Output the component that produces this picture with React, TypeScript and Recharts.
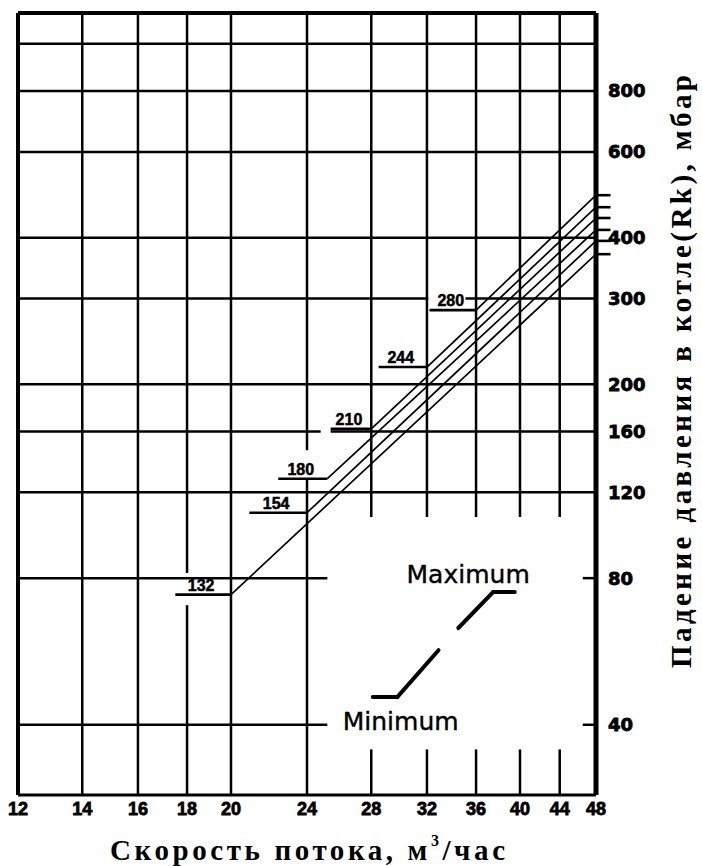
import React from 'react';
import { ComposedChart, Line, XAxis, YAxis, ReferenceLine } from 'recharts';

// Axes
const xTicks = [12, 14, 16, 18, 20, 24, 28, 32, 36, 40, 44, 48];
const yTicks = [40, 80, 120, 160, 200, 300, 400, 600, 800];
const xDomain = [12, 48];
const yDomain = [28.7, 1157];

// Boiler models: pressure drop line from min flow to max flow
const models = ['132', '154', '180', '210', '244', '280'];
const minFlow = [20, 24, 25.2, 28, 32, 36];
const minDrop = [74, 109, 128, 162, 217, 284];
const maxFlow = [48, 48, 48, 48, 48, 48];
const maxDrop = [370, 394, 415, 439, 462, 489];
const labelStart = [17.5, 20.9, 22.4, 25.4, 28.5, 32.2];
const maxTickEnd = 49.7;

// Grid segments (broken grid as drawn in the original)
const vGridX = [14, 16, 18, 18, 20, 24, 24, 28, 28, 32, 32, 36, 36, 40, 40, 44, 44];
const vGridFrom = [28.7, 28.7, 82, 28.7, 28.7, 146.5, 28.7, 106.8, 28.7, 106.8, 28.7, 106.8, 28.7, 106.8, 28.7, 106.8, 28.7];
const vGridTo = [1157, 1157, 1157, 70.4, 1157, 1157, 128, 1157, 35.6, 1157, 35.6, 1157, 35.6, 1157, 35.6, 1157, 35.6];

const hGridY = [1000, 800, 600, 400, 300, 300, 200, 160, 160, 120, 80, 80, 40, 40];
const hGridFrom = [12, 12, 12, 12, 12, 35.1, 12, 12, 25.4, 12, 12, 46.5, 12, 46.5];
const hGridTo = [48, 48, 48, 48, 32.1, 48, 48, 24.8, 48, 48, 25.2, 48, 25.2, 48];

// Legend (Minimum -> Maximum)
const legendMinX = [28.1, 29.8, 32.9];
const legendMinY = [45.6, 45.6, 56.9];
const legendMaxX = [34.5, 37.5, 39.5];
const legendMaxY = [63.2, 74.9, 74.9];

const sans = '"Liberation Sans", Arial, Helvetica, sans-serif';
const serif = '"Liberation Serif", "Times New Roman", serif';

const modelLines = models.map((m, i) => [
  { x: minFlow[i], y: minDrop[i] },
  { x: maxFlow[i], y: maxDrop[i] },
]);

const getVB = (props: any) => props.viewBox || props;

const modelLabel = (text: string) => (props: any) => {
  const vb = getVB(props);
  return (
    <text x={vb.x + (vb.width || 0) / 2 - 2} y={vb.y - 4} textAnchor="middle" fontFamily={sans} fontWeight="bold" fontSize={16} fill="#000" stroke="#000" strokeWidth={0.5}>
      {text}
    </text>
  );
};

const maxLabel = (props: any) => {
  const vb = getVB(props);
  return (
    <text x={vb.x + (vb.width || 0) + 15} y={vb.y - 9} textAnchor="end" fontFamily='"DejaVu Sans", sans-serif' fontSize={25} fill="#000" stroke="#000" strokeWidth={0.4}>
      Maximum
    </text>
  );
};

const minLabel = (props: any) => {
  const vb = getVB(props);
  return (
    <text x={vb.x - 30} y={vb.y + 33} textAnchor="start" fontFamily='"DejaVu Sans", sans-serif' fontSize={25} fill="#000" stroke="#000" strokeWidth={0.4}>
      Minimum
    </text>
  );
};

const XTitle = () => (
  <text x={110} y={860} fontFamily={serif} fontWeight="bold" fontSize={29} textLength={395} lengthAdjust="spacing" fill="#000">
    Скорость потока, м<tspan dy={-14} fontSize={16}>3</tspan><tspan dy={14}>/час</tspan>
  </text>
);

const YTitle = () => (
  <text transform="rotate(-90 691 668)" x={691} y={668} fontFamily={serif} fontWeight="bold" fontSize={29} textLength={593} lengthAdjust="spacing" fill="#000">
    Падение давления в котле(Rk), мбар
  </text>
);

export default function App() {
  const W = 702;
  const H = 866;
  return (
    <div style={{ position: 'absolute', left: 0, top: 0, width: W, height: H, background: '#fff' }}>
      <ComposedChart width={W} height={H} margin={{ top: 13, right: 0, bottom: 0, left: 18 }}>
        <XAxis
          type="number"
          dataKey="x"
          scale="log"
          domain={xDomain}
          allowDataOverflow
          ticks={xTicks}
          interval={0}
          height={71}
          tickLine={false}
          tickSize={0}
          tickMargin={7}
          axisLine={{ stroke: '#000', strokeWidth: 3 }}
          tick={{ fill: '#000', stroke: '#000', strokeWidth: 0.8, fontSize: 18, fontWeight: 700, fontFamily: sans }}
          label={{ content: XTitle }}
        />
        <YAxis
          type="number"
          dataKey="y"
          orientation="right"
          scale="log"
          domain={yDomain}
          allowDataOverflow
          ticks={yTicks}
          interval={0}
          width={106}
          tickLine={false}
          tickSize={0}
          tickMargin={12}
          axisLine={{ stroke: '#000', strokeWidth: 5 }}
          tick={{ fill: '#000', stroke: '#000', strokeWidth: 0.8, fontSize: 18, fontWeight: 700, fontFamily: '"DejaVu Sans", sans-serif' }}
          label={{ content: YTitle }}
        />

        {/* borders */}
        <ReferenceLine segment={[{ x: 12, y: yDomain[0] }, { x: 12, y: yDomain[1] }]} stroke="#000" strokeWidth={4} ifOverflow="visible" />
        <ReferenceLine segment={[{ x: 12, y: yDomain[1] }, { x: 48, y: yDomain[1] }]} stroke="#000" strokeWidth={4} ifOverflow="visible" />

        {vGridX.map((x, i) => (
          <ReferenceLine key={'v' + i} segment={[{ x, y: vGridFrom[i] }, { x, y: vGridTo[i] }]} stroke="#000" strokeWidth={2.5} ifOverflow="visible" />
        ))}
        {hGridY.map((y, i) => (
          <ReferenceLine key={'h' + i} segment={[{ x: hGridFrom[i], y }, { x: hGridTo[i], y }]} stroke="#000" strokeWidth={2.5} ifOverflow="visible" />
        ))}

        {/* model underlines with labels */}
        {models.map((m, i) => (
          <ReferenceLine
            key={'u' + i}
            segment={[{ x: labelStart[i], y: minDrop[i] }, { x: minFlow[i], y: minDrop[i] }]}
            stroke="#000"
            strokeWidth={2.6}
            ifOverflow="visible"
            label={modelLabel(m)}
          />
        ))}
        {/* max ticks beyond right border */}
        {models.map((m, i) => (
          <ReferenceLine
            key={'t' + i}
            segment={[{ x: maxFlow[i], y: maxDrop[i] }, { x: maxTickEnd, y: maxDrop[i] }]}
            stroke="#000"
            strokeWidth={2.6}
            ifOverflow="visible"
          />
        ))}

        {modelLines.map((d, i) => (
          <Line
            key={'l' + i}
            data={d}
            dataKey="y"
            type="linear"
            stroke="#000"
            strokeWidth={1.7}
            dot={false}
            activeDot={false}
            isAnimationActive={false}
          />
        ))}

        {/* legend */}
        <ReferenceLine segment={[{ x: legendMinX[0], y: legendMinY[0] }, { x: legendMinX[1], y: legendMinY[1] }]} stroke="#000" strokeWidth={4} strokeLinecap="round" ifOverflow="visible" label={minLabel} />
        <ReferenceLine segment={[{ x: legendMinX[1], y: legendMinY[1] }, { x: legendMinX[2], y: legendMinY[2] }]} stroke="#000" strokeWidth={4} strokeLinecap="round" ifOverflow="visible" />
        <ReferenceLine segment={[{ x: legendMaxX[0], y: legendMaxY[0] }, { x: legendMaxX[1], y: legendMaxY[1] }]} stroke="#000" strokeWidth={4} strokeLinecap="round" ifOverflow="visible" />
        <ReferenceLine segment={[{ x: legendMaxX[1], y: legendMaxY[1] }, { x: legendMaxX[2], y: legendMaxY[2] }]} stroke="#000" strokeWidth={4} strokeLinecap="round" ifOverflow="visible" label={maxLabel} />
      </ComposedChart>
    </div>
  );
}
